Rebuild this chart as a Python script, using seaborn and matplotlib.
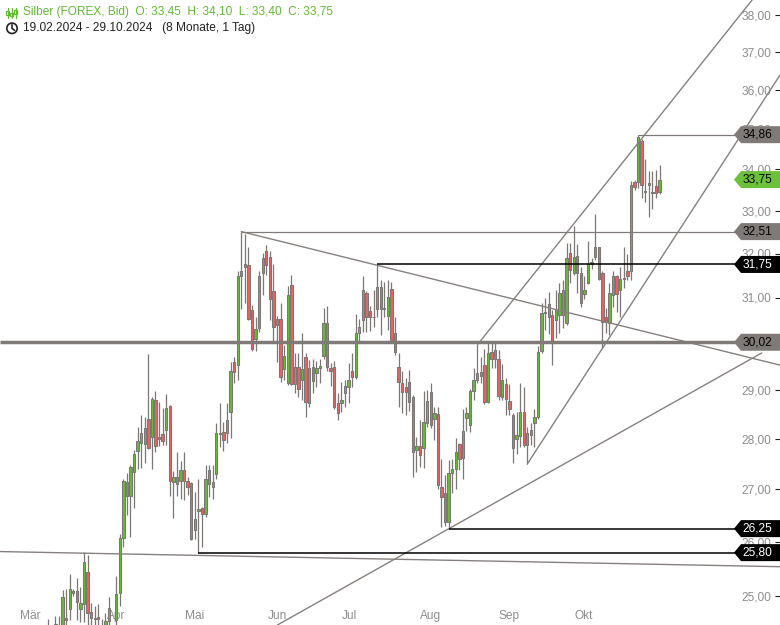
import numpy as np
import pandas as pd
import matplotlib
matplotlib.use("Agg")
import matplotlib.pyplot as plt
import matplotlib.transforms as mtransforms
from matplotlib.patches import Polygon, Rectangle, Circle
from matplotlib.lines import Line2D
import seaborn as sns

nan = np.nan

# daily candles, one slot per trading day (nan = nothing drawn)
opens = [
    24.35, nan, 24.40, 24.45, 24.45, 24.62, 24.77, 25.10, 25.09, 24.78,
    24.87, 25.44, 24.72, 24.62, 24.63, 24.45, 24.35, 24.56, nan, 24.57,
    25.06, 26.08, 27.14, 26.87, 27.35, 27.75, 27.92, 27.90, 28.41, 28.04,
    28.80, 28.04, 28.10, 28.18, 28.67, 27.14, 27.10, 27.16, 27.39, 27.16,
    27.12, 26.23, 26.58, 26.65, 26.52, 27.39, 27.04, 27.31, 28.12, 28.14,
    28.12, 28.55, 29.60, 29.53, 31.48, 31.77, 31.73, 30.73, 30.09, 30.33,
    31.56, 32.05, 31.91, 31.14, 30.40, 30.53, 29.45, 29.15, 31.29, 29.13,
    29.49, 29.21, 29.70, 28.73, 29.49, 29.36, 29.47, 29.72, 30.44, 29.47,
    29.49, 28.73, 28.73, 28.94, 29.06, 29.40, 29.28, 30.22, 30.51, 31.11,
    30.71, 30.56, 30.75, 31.23, 30.78, 30.60, 31.20, 30.22, 29.49, 29.15,
    29.06, 29.17, 28.86, 27.78, 27.86, 27.82, 28.33, 28.96, 28.41, 28.51,
    27.04, 26.94, 26.37, 27.33, 27.41, 27.90, 27.61, 28.43, 28.29, 28.98,
    29.36, 29.30, 29.53, 28.76, 29.81, 29.85, 29.66, 28.86, 29.13, 28.78,
    28.49, 28.00, 28.06, 28.55, 27.88, 28.08, 28.33, 28.45, 29.83, 30.67,
    30.85, 30.62, 30.51, 30.62, 30.62, 30.44, 32.02, 31.56, 31.95, 31.56,
    31.09, 31.33, 31.77, 31.93, 32.14, 31.56, 30.56, 30.44, 31.07, 31.48,
    31.18, 31.43, 31.59, 31.59, 33.68, 33.70, 34.70, 33.48, 33.63, 33.45,
    33.60, 33.45,
]
highs = [
    24.59, nan, 24.65, 24.65, 25.11, 25.13, 25.41, 25.14, 25.33, 25.17,
    25.82, 25.76, 24.89, 24.83, 24.87, 24.60, 24.70, 24.98, nan, 25.37,
    26.15, 27.20, 27.33, 27.49, 27.78, 28.25, 28.49, 28.45, 29.77, 28.86,
    28.98, 28.76, 28.63, 28.92, 28.69, 27.37, 27.73, 27.55, 27.73, 27.24,
    27.14, 26.96, 27.20, 26.67, 27.49, 27.49, 27.49, 28.33, 28.73, 28.35,
    28.73, 29.60, 29.70, 31.59, 32.51, 32.45, 32.16, 30.84, 30.58, 31.59,
    32.02, 32.19, 32.05, 31.75, 30.60, 30.87, 29.96, 31.25, 31.52, 29.79,
    29.79, 30.22, 29.79, 29.64, 29.66, 29.62, 29.66, 30.78, 30.82, 29.58,
    29.62, 28.94, 29.17, 29.21, 29.57, 29.79, 30.64, 30.53, 31.48, 31.14,
    30.82, 31.18, 31.75, 31.40, 31.36, 31.40, 31.36, 30.58, 29.79, 29.40,
    29.26, 29.42, 28.90, 28.04, 28.39, 28.98, 29.00, 29.15, 28.65, 28.65,
    27.59, 27.29, 27.57, 27.59, 28.02, 27.92, 28.61, 28.65, 29.02, 29.47,
    29.98, 29.70, 29.87, 30.04, 30.04, 30.04, 29.85, 29.55, 29.26, 29.13,
    28.53, 28.55, 29.15, 29.06, 28.24, 28.33, 28.61, 29.94, 30.89, 31.00,
    31.13, 30.73, 31.18, 31.33, 31.40, 32.25, 32.25, 32.65, 32.23, 31.70,
    31.48, 32.28, 31.90, 32.93, 32.16, 31.59, 30.78, 31.33, 31.59, 31.50,
    31.70, 32.14, 31.98, 33.71, 33.75, 34.86, 34.75, 34.25, 33.95, 33.95,
    33.98, 34.10,
]
lows = [
    24.20, nan, 24.20, 24.20, 24.30, 24.40, 24.58, 25.00, 24.58, 24.54,
    24.54, 24.45, 24.45, 24.40, 24.40, 24.30, 24.25, 24.45, nan, 24.45,
    24.83, 25.90, 26.50, 26.10, 26.65, 27.41, 27.43, 27.53, 27.80, 27.41,
    27.73, 27.86, 27.88, 27.88, 26.88, 26.46, 26.87, 26.81, 26.79, 26.90,
    26.04, 26.06, 25.80, 25.90, 26.48, 26.85, 26.81, 27.20, 27.84, 27.75,
    27.92, 28.02, 29.15, 29.21, 30.75, 30.89, 30.51, 29.83, 29.83, 30.24,
    31.07, 31.50, 30.51, 30.00, 29.60, 29.17, 29.21, 29.10, 29.11, 28.94,
    28.86, 28.80, 28.45, 28.65, 28.94, 29.06, 29.15, 29.66, 29.40, 29.09,
    28.62, 28.39, 28.55, 28.65, 28.73, 29.06, 29.23, 30.02, 30.24, 30.24,
    30.27, 30.36, 30.58, 30.18, 30.58, 30.29, 30.02, 29.74, 28.65, 28.53,
    28.49, 28.57, 27.25, 27.35, 27.45, 27.43, 28.25, 28.22, 27.98, 27.00,
    26.29, 26.30, 26.25, 26.94, 27.00, 27.39, 27.20, 28.16, 28.14, 28.80,
    29.15, 29.15, 28.71, 28.74, 29.47, 29.47, 28.80, 28.80, 28.49, 28.49,
    27.53, 27.69, 27.84, 27.84, 27.50, 27.88, 27.84, 28.41, 29.79, 30.29,
    30.20, 29.53, 30.11, 30.22, 30.33, 30.40, 31.33, 31.52, 31.11, 30.80,
    30.96, 31.30, 31.65, 31.86, 31.40, 29.90, 30.22, 30.18, 30.80, 30.69,
    30.56, 31.22, 31.40, 31.40, 33.50, 33.55, 33.30, 33.20, 32.85, 33.05,
    33.30, 33.40,
]
closes = [
    24.30, nan, 24.50, 24.35, 24.98, 24.58, 25.13, 25.06, 24.90, 24.89,
    25.63, 24.70, 24.61, 24.60, 24.60, 24.38, 24.56, 24.80, nan, 25.04,
    26.08, 27.16, 26.87, 27.45, 27.69, 27.96, 28.12, 28.22, 27.82, 28.82,
    27.86, 28.00, 27.96, 28.63, 27.16, 27.25, 27.24, 27.39, 27.16, 27.04,
    26.06, 26.44, 26.62, 26.52, 27.20, 27.10, 27.14, 28.12, 28.10, 27.98,
    28.39, 29.40, 29.38, 31.48, 31.59, 31.70, 30.53, 29.87, 30.31, 31.48,
    31.89, 31.73, 30.98, 30.36, 30.53, 29.28, 29.72, 31.07, 29.13, 29.49,
    29.02, 29.45, 28.76, 29.47, 29.19, 29.47, 29.51, 30.44, 29.49, 29.40,
    28.65, 28.53, 28.80, 29.09, 29.21, 29.28, 30.22, 30.36, 31.18, 30.56,
    30.56, 30.58, 31.23, 30.75, 30.75, 31.02, 30.04, 29.81, 29.17, 28.96,
    28.96, 28.76, 27.73, 27.86, 27.67, 28.35, 28.78, 28.29, 28.53, 27.08,
    26.85, 26.38, 27.33, 27.41, 27.73, 27.59, 28.16, 28.53, 28.98, 29.21,
    29.21, 29.38, 28.76, 29.79, 29.66, 29.66, 28.88, 29.21, 28.82, 28.61,
    27.82, 28.08, 28.55, 27.88, 28.12, 28.18, 28.45, 29.81, 30.67, 30.69,
    30.58, 30.00, 30.73, 31.11, 31.16, 31.89, 31.63, 31.93, 31.56, 30.89,
    31.16, 31.77, 31.80, 32.14, 31.43, 30.46, 30.46, 31.11, 31.48, 31.09,
    31.43, 31.42, 31.48, 33.63, 33.58, 34.80, 33.62, 33.45, 33.66, 33.42,
    33.42, 33.75,
]

month_pos = [-5.1, 18.9, 41.0, 64.0, 84.1, 106.8, 128.9, 149.9]
month_labels = ["Mär", "Apr", "Mai", "Jun", "Jul", "Aug", "Sep", "Okt"]
price_ticks = [25, 26, 27, 28, 29, 30, 31, 32, 33, 34, 35, 36, 37, 38]

# horizontal levels: value, slot where the line starts, style
level_values = [34.86, 32.51, 31.75, 30.02, 26.25, 25.80]
level_start = [165, 54, 92, -13.5, 112, 42]
level_kind = ["gray", "gray", "black", "thick", "black", "black"]
last_price = 33.75

# trend lines (slot, price) end points
trend_x = [(120.2, 196.9), (134.0, 204.7), (54.0, 204.7), (64.1, 199.6), (-13.5, 204.7)]
trend_y = [(29.98, 38.41), (27.50, 36.39), (32.51, 29.53), (24.49, 29.79), (25.82, 25.54)]

GREEN = "#66bb35"
RED = "#ea6260"
WICK = "#7c7775"
GRAY = "#7f7a78"
LABEL = "#8d8d8d"

sns.set_theme(style="white")
plt.rcParams["font.family"] = ["Liberation Sans", "DejaVu Sans"]
FS = 8.6

W, H = 780, 625
fig = plt.figure(figsize=(W / 100, H / 100), dpi=100)
ax = fig.add_axes([0, 0, 1, 1])
ax.set_yscale("log")
ax.set_xlim(-13.5, 204.7)
ax.set_ylim(24.49, 38.41)
for sp in ax.spines.values():
    sp.set_visible(False)

# ticks (marks only, labels drawn as texts inside the plot)
ax.yaxis.tick_right()
ax.set_yticks(price_ticks)
ax.set_xticks(month_pos)
ax.minorticks_off()
ax.tick_params(axis="y", direction="in", length=3.6, width=0.8, color="#222222",
               labelright=False, labelleft=False)
ax.tick_params(axis="x", direction="in", length=2.6, width=0.8, color="#222222",
               labelbottom=False)

# candles
df = pd.DataFrame({"open": opens, "high": highs, "low": lows, "close": closes})
df["slot"] = np.arange(len(df))
df = df.dropna()
up = df["close"] >= df["open"]
body_lo = np.minimum(df["open"], df["close"])
body_h = np.maximum((df["close"] - df["open"]).abs(), 0.012)
ax.vlines(df["slot"], df["low"], df["high"], color=WICK, lw=0.9, zorder=3)
ax.bar(df["slot"], body_h, bottom=body_lo, width=0.66,
       color=np.where(up, GREEN, RED), edgecolor=WICK, linewidth=0.75, zorder=4)

# trend lines
for (x0, x1), (y0, y1) in zip(trend_x, trend_y):
    sns.lineplot(x=[x0, x1], y=[y0, y1], ax=ax, color="#86817f", lw=1.0,
                 zorder=5, estimator=None, sort=False)

# level lines
for v, s, kind in zip(level_values, level_start, level_kind):
    if kind == "thick":
        ax.hlines(v, s, 204.7, color=GRAY, lw=2.5, zorder=5)
    elif kind == "gray":
        ax.hlines(v, s, 204.7, color=GRAY, lw=0.9, zorder=5)
    else:
        ax.hlines(v, s, 204.7, color="black", lw=1.1, zorder=5)

# tick labels inside the plot
ytrans = mtransforms.blended_transform_factory(ax.transAxes, ax.transData)
ytrans = ytrans + mtransforms.ScaledTranslation(0, -4.3 / 100, fig.dpi_scale_trans)
for p in price_ticks:
    ax.text(1 - 9 / W, p, f"{p:.2f}".replace(".", ","), transform=ytrans,
            ha="right", va="baseline", fontsize=FS, color=LABEL, zorder=2)
xtrans = mtransforms.blended_transform_factory(ax.transData, ax.transAxes)
for pos, lab in zip(month_pos, month_labels):
    ax.text(pos, 5.8 / H, lab, transform=xtrans, ha="center", va="baseline",
            fontsize=FS, color=LABEL, zorder=2)

# price badges on the right edge
ident = mtransforms.IdentityTransform()


def badge(value, face, txt_color):
    yc = ax.transData.transform((0, value))[1]
    hh = 8.5
    pts = [(734, yc), (741, yc + hh), (W, yc + hh), (W, yc - hh), (741, yc - hh)]
    fig.add_artist(Polygon(pts, closed=True, facecolor=face, edgecolor="none",
                           transform=ident, zorder=10))
    fig.text(757.5 / W, yc / H, f"{value:.2f}".replace(".", ","), ha="center",
             va="center", fontsize=FS, color=txt_color, zorder=11)


for v, kind in zip(level_values, level_kind):
    if kind == "black":
        badge(v, "black", "white")
    else:
        badge(v, GRAY, "black")
badge(last_price, "#6cc13a", "black")

# header
LEG_GREEN = "#63b936"
fig.text(23 / W, 1 - 12.5 / H,
         "Silber (FOREX, Bid)  O: 33,45  H: 34,10  L: 33,40  C: 33,75",
         ha="left", va="center", fontsize=FS, color=LEG_GREEN)
fig.text(23 / W, 1 - 28.5 / H,
         "19.02.2024 - 29.10.2024   (8 Monate, 1 Tag)",
         ha="left", va="center", fontsize=FS, color="#222222")

# header icons (pixel coordinates, y from top)
for cx, b0, b1 in [(7.5, 11, 15), (11.5, 13, 16), (15.5, 10, 14)]:
    fig.add_artist(Line2D([cx, cx], [H - 8, H - 18], color=LEG_GREEN, lw=0.9,
                          transform=ident))
    fig.add_artist(Rectangle((cx - 1.3, H - b1), 2.6, b1 - b0, facecolor="white",
                             edgecolor=LEG_GREEN, lw=0.9, transform=ident))
fig.add_artist(Circle((12, H - 28.3), 5.2, facecolor="none", edgecolor="#222222",
                      lw=1.2, transform=ident))
fig.add_artist(Line2D([12, 12, 14.5], [H - 24.8, H - 28.3, H - 30.3],
                      color="#222222", lw=1.2, transform=ident))

fig.savefig("out.png", dpi=100, facecolor="white")
